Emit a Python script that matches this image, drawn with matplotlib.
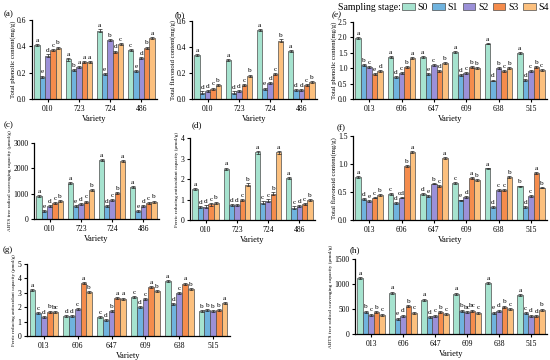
import matplotlib
matplotlib.use("Agg")
import matplotlib.pyplot as plt
import numpy as np
from matplotlib.patches import Patch

plt.rcParams['font.family'] = ['Liberation Serif', 'DejaVu Serif']

W, H = 550, 360

stages = ["S0", "S1", "S2", "S3", "S4"]
colors = ["#a6e3cf", "#6fb3de", "#9b90d8", "#f58c4c", "#fcc07e"]

var4 = ["010", "723", "724", "486"]
var6 = ["013", "606", "647", "609", "638", "515"]

# each row = one variety, values for S0..S4
tpc4 = [[0.41, 0.17, 0.33, 0.37, 0.39],
        [0.30, 0.22, 0.24, 0.28, 0.28],
        [0.52, 0.19, 0.45, 0.36, 0.42],
        [0.37, 0.21, 0.31, 0.39, 0.46]]
tpc4_let = ["aedcb", "abaaa", "aebdc", "cedba"]

tfc4 = [[0.34, 0.05, 0.06, 0.08, 0.11],
        [0.30, 0.05, 0.06, 0.11, 0.18],
        [0.53, 0.08, 0.12, 0.19, 0.45],
        [0.37, 0.07, 0.07, 0.11, 0.13]]
tfc4_let = ["addcb", "addcb", "aedcb", "addcb"]

abts4 = [[910, 330, 510, 620, 710],
         [1410, 510, 580, 690, 1145],
         [2330, 510, 750, 1040, 2290],
         [1275, 330, 510, 620, 690]]
abts4_let = ["aedcb", "aedcb", "adcba", "aedcb"]

frap4 = [[1.50, 0.63, 0.65, 0.76, 0.84],
         [2.50, 0.73, 0.73, 0.97, 1.73],
         [3.30, 0.85, 0.95, 1.29, 3.30],
         [2.05, 0.60, 0.68, 0.77, 0.97]]
frap4_let = ["addcb", "addcb", "accba", "acdcb"]

tpc6 = [[1.97, 1.10, 1.05, 0.80, 0.90],
        [1.37, 0.72, 0.85, 1.03, 1.32],
        [1.35, 0.80, 1.10, 0.92, 1.17],
        [1.53, 0.77, 0.85, 1.05, 1.00],
        [1.80, 0.60, 1.00, 0.90, 1.00],
        [1.48, 0.62, 0.90, 1.05, 0.93]]
tpc6_let = ["abced", "adcba", "aecdb", "adcbb", "adbcb", "adcbc"]

tfc6 = [[0.77, 0.38, 0.34, 0.40, 0.45],
        [0.47, 0.30, 0.40, 0.96, 1.21],
        [0.46, 0.43, 0.65, 0.61, 1.11],
        [0.66, 0.35, 0.41, 0.75, 0.71],
        [0.92, 0.23, 0.54, 0.53, 0.77],
        [0.60, 0.23, 0.43, 0.84, 0.58]]
tfc6_let = [["a", "d", "e", "c", "b"], ["c", "d", "cd", "b", "a"],
            ["d", "e", "b", "c", "a"], ["c", "e", "d", "a", "b"],
            ["a", "d", "c", "c", "b"], ["b", "d", "c", "a", "b"]]

frap6 = [[3.20, 1.60, 1.30, 1.70, 1.64],
         [1.40, 1.40, 1.90, 3.70, 3.07],
         [1.34, 1.10, 1.73, 2.66, 2.60],
         [2.70, 2.00, 2.57, 3.40, 3.10],
         [3.80, 2.20, 3.00, 3.64, 3.25],
         [1.73, 1.82, 1.73, 1.80, 2.27]]
frap6_let = [["a", "c", "d", "b", "bc"], ["d", "d", "c", "a", "b"],
             ["c", "d", "b", "a", "a"], ["c", "d", "c", "a", "b"],
             ["a", "d", "c", "a", "b"], ["b", "b", "b", "b", "a"]]

abts6 = [[1120, 450, 390, 440, 390],
         [830, 310, 370, 560, 430],
         [690, 340, 370, 440, 400],
         [810, 470, 440, 470, 430],
         [1020, 430, 470, 550, 500],
         [780, 420, 370, 360, 490]]
abts6_let = [["a", "b", "c", "b", "c"], ["a", "e", "d", "b", "c"],
             ["a", "d", "c", "b", "c"], ["a", "b", "bc", "bc", "c"],
             ["a", "e", "d", "b", "c"], ["a", "c", "d", "d", "b"]]

ylab_tpc = "Total phenolic content(mg/g)"
ylab_tfc = "Total flavonoid content(mg/g)"
ylab_abts = "ABTS free radical scavenging capacity (μmol/g)"
ylab_frap = "Ferric reducing antioxidant capacity (μmol/g)"

# tag, varieties, values, letters, ylabel, ylabel size, yticks, tick fmt, err,
# rect px (l, t, r, b), tag pos
panels = [
    ("(a)", var4, tpc4, tpc4_let, ylab_tpc, 4.8, [0, 0.2, 0.4, 0.6], "{:.1f}", 0.008, (32, 20, 157, 99), (4, 14)),
    ("(b)", var4, tfc4, tfc4_let, ylab_tfc, 4.8, [0, 0.2, 0.4, 0.6], "{:.1f}", 0.008, (192, 21, 317, 99), (175, 15)),
    ("(e)", var6, tpc6, tpc6_let, ylab_tpc, 4.8, [0, 0.5, 1.0, 1.5, 2.0, 2.5], "{:.1f}", 0.03, (353, 22, 547, 99), (332, 15)),
    ("(c)", var4, abts4, abts4_let, ylab_abts, 3.7, [0, 1000, 2000, 3000], "{:.0f}", 40, (34, 143, 159, 219), (4, 125)),
    ("(d)", var4, frap4, frap4_let, ylab_frap, 3.7, [0, 1, 2, 3, 4], "{:.0f}", 0.06, (190, 138, 315, 220), (192, 125)),
    ("(f)", var6, tfc6, tfc6_let, ylab_tfc, 4.9, [0, 0.5, 1.0, 1.5], "{:.1f}", 0.015, (353, 136, 547, 220), (337, 128)),
    ("(g)", var6, frap6, frap6_let, ylab_frap, 3.6, [0, 1, 2, 3, 4, 5], "{:.0f}", 0.07, (27, 264, 230, 336), (3, 250)),
    ("(h)", var6, abts6, abts6_let, ylab_abts, 3.8, [0, 500, 1000, 1500], "{:.0f}", 20, (355, 259, 547, 334), (350, 250)),
]

fig = plt.figure(figsize=(W / 100, H / 100), dpi=100)

width = 0.17
for tag, cats, vals, lets, ylab, yls, yt, fmt, err, (l, t, r, b), (tx, ty) in panels:
    ax = fig.add_axes([l / W, 1 - b / H, (r - l) / W, (b - t) / H])
    vals = np.array(vals)
    x = np.arange(len(cats))
    for i in range(5):
        xs = x + (i - 2) * width
        ax.bar(xs, vals[:, i], width, color=colors[i], edgecolor="#4d4d4d",
               linewidth=0.5, zorder=2)
        ax.errorbar(xs, vals[:, i], yerr=err, fmt="none", ecolor="#222222",
                    elinewidth=0.5, capsize=1.2, capthick=0.5, zorder=3)
        for j in range(len(cats)):
            ax.annotate(lets[j][i], (xs[j], vals[j, i] + err), xytext=(0, 0.8),
                        textcoords="offset points", ha="center", va="bottom",
                        fontsize=5.2)
    ax.set_xlim(-0.5, len(cats) - 0.5)
    ax.set_ylim(yt[0], yt[-1])
    ax.set_yticks(yt)
    ax.set_yticklabels([fmt.format(v) for v in yt])
    ax.set_xticks(x)
    ax.set_xticklabels(cats)
    ax.tick_params(labelsize=5.5, width=0.8, length=2, pad=2)
    for s in ["top", "right"]:
        ax.spines[s].set_visible(False)
    for s in ["left", "bottom"]:
        ax.spines[s].set_linewidth(0.9)
    ax.set_ylabel(ylab, fontsize=yls, labelpad=1)
    ax.set_xlabel("Variety", fontsize=6, labelpad=2)
    fig.text(tx / W, 1 - ty / H, tag, fontsize=6.5, va="center",
             style="italic" if tag == "(e)" else "normal")

fig.text(338 / W, 1 - 7 / H, "Sampling stage:", fontsize=7, va="center")
handles = [Patch(facecolor=c, edgecolor="#4d4d4d", linewidth=0.5) for c in colors]
fig.legend(handles, stages, loc="center left", bbox_to_anchor=(402 / W, 1 - 7 / H),
           ncol=5, frameon=False, fontsize=7, handlelength=1.3, handleheight=0.7,
           handletextpad=0.3, columnspacing=0.45, borderpad=0, borderaxespad=0)

fig.savefig("out.png", dpi=100)
